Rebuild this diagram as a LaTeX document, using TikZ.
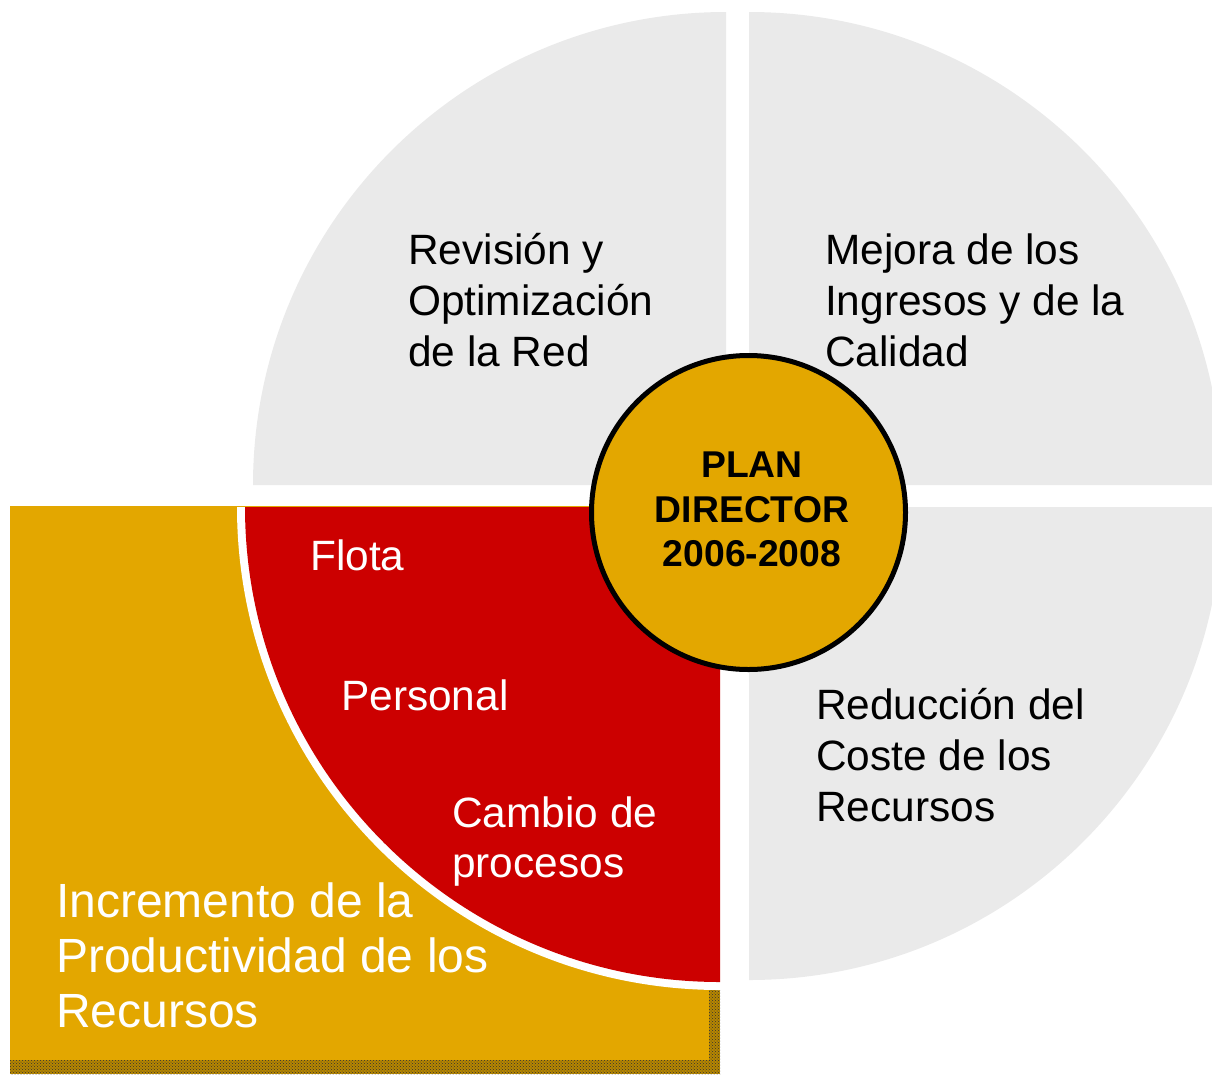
\documentclass[tikz,border=0pt]{standalone}
\usepackage{fontspec}
\setmainfont{Liberation Sans}
\usetikzlibrary{patterns}
\definecolor{qgrey}{HTML}{EAEAEA}
\definecolor{qgold}{HTML}{E3A700}
\definecolor{qred}{HTML}{CC0000}
\tikzset{
  quad/.style={fill=qgrey},
  dtxt/.style={anchor=base west, inner sep=0pt, font=\fontsize{42.4}{50}\selectfont, text=black},
  wtxt/.style={anchor=base west, inner sep=0pt, font=\fontsize{42.4}{50}\selectfont, text=white},
  btxt/.style={anchor=base west, inner sep=0pt, font=\fontsize{48}{55}\selectfont, text=white},
  ctxt/.style={anchor=base, inner sep=0pt, font=\fontsize{37.3}{44}\bfseries\selectfont, text=black},
  noise/.style={pattern=crosshatch dots, pattern color=black!80}
}
\begin{document}
\begin{tikzpicture}[x=1pt,y=-1pt]
\useasboundingbox (0,0) rectangle (1212,1074);
\clip (0,0) rectangle (1212,1074);
% grey quadrants
\fill[quad] (726,485) -- (253,485) arc[start angle=180,end angle=270,radius=473] -- cycle;
\fill[quad] (749,485) -- (749,12) arc[start angle=270,end angle=360,radius=473] -- cycle;
\fill[quad] (749,507) -- (1222,507) arc[start angle=0,end angle=90,radius=473] -- cycle;
% gold rectangle
\fill[qgold] (10,506) rectangle (720,1074);
\fill[qgold!80!black] (10,1060) rectangle (720,1074);
\fill[qgold!80!black] (709,990) rectangle (720,1060);
\fill[noise] (10,1060) rectangle (720,1074);
\fill[noise] (709,990) rectangle (720,1060);
% red quarter with white rim
\fill[white] (720,507) -- (237,507) arc[start angle=180,end angle=90,radius=483] -- cycle;
\fill[qred] (720,507) -- (245,507) arc[start angle=180,end angle=90,radius=475] -- cycle;
% centre circle
\node[circle, draw=black, line width=5pt, fill=qgold, minimum size=314pt, inner sep=0pt] (hub) at (748.5,512.5) {};
\node[ctxt] (c1) at (752,477) {PLAN};
\node[ctxt] (c2) at (752,522) {DIRECTOR};
\node[ctxt] (c3) at (752,566) {2006-2008};
% top-left text
\node[dtxt] (a1) at (408,264) {Revisión y};
\node[dtxt] (a2) at (408,315) {Optimización};
\node[dtxt] (a3) at (408,366) {de la Red};
% top-right text
\node[dtxt] (b1) at (825,264) {Mejora de los};
\node[dtxt] (b2) at (825,315) {Ingresos y de la};
\node[dtxt] (b3) at (825,366) {Calidad};
% bottom-right text
\node[dtxt] (d1) at (816,719) {Reducción del};
\node[dtxt] (d2) at (816,770) {Coste de los};
\node[dtxt] (d3) at (816,821) {Recursos};
% red quarter text
\node[wtxt] (e1) at (310,570) {Flota};
\node[wtxt] (e2) at (341,710) {Personal};
\node[wtxt] (e3) at (452,827) {Cambio de};
\node[wtxt] (e4) at (452,877) {procesos};
% gold text
\node[btxt] (f1) at (56,917) {Incremento de la};
\node[btxt] (f2) at (56,972) {Productividad de los};
\node[btxt] (f3) at (56,1027) {Recursos};
\end{tikzpicture}
\end{document}
